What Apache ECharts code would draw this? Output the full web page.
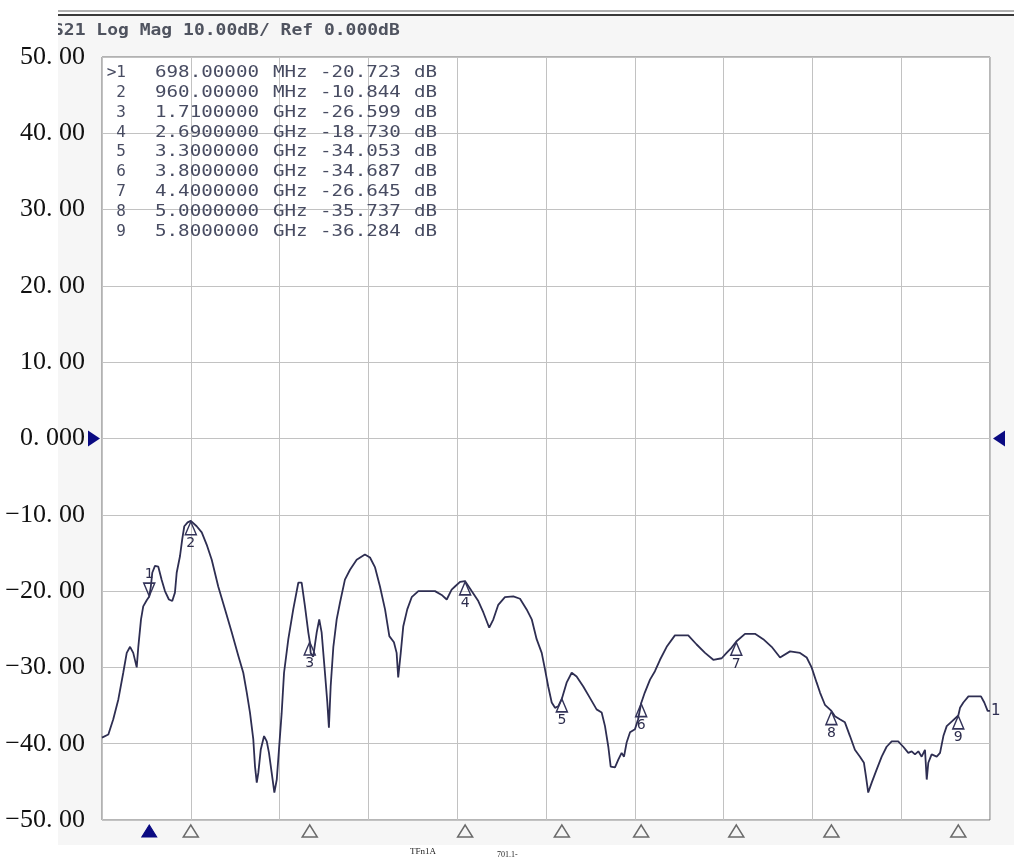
<!DOCTYPE html>
<html><head><meta charset="utf-8">
<script src="https://cdn.jsdelivr.net/npm/echarts@6/dist/echarts.min.js"></script>
<style>html,body{margin:0;padding:0;background:#fff}#c{width:1014px;height:863px}</style>
</head><body><div id="c"></div>
<script>
// ---- data ----
const traceFreqMHz = [400,440,471,503,534,556,577,597,619,629,646,660,682,698,708,717,734,755,776,797,822,843,860,871,892,906,919,940,960,997,1029,1060,1092,1133,1176,1218,1260,1291,1313,1333,1354,1365,1376,1386,1401,1422,1439,1453,1470,1487,1502,1516,1533,1548,1575,1606,1638,1659,1680,1701,1710,1716,1732,1754,1770,1785,1806,1821,1831,1842,1859,1880,1901,1932,1964,2006,2058,2090,2122,2153,2185,2212,2241,2258,2268,2284,2300,2325,2353,2395,2448,2500,2542,2574,2605,2626,2658,2690,2731,2773,2805,2842,2868,2899,2941,2994,3036,3078,3110,3141,3173,3194,3214,3236,3257,3277,3300,3330,3362,3393,3435,3477,3519,3551,3572,3593,3608,3635,3656,3677,3692,3709,3730,3761,3781,3800,3823,3856,3887,3919,3961,4013,4097,4150,4203,4255,4308,4339,4371,4400,4455,4518,4570,4623,4676,4739,4802,4844,4875,4907,4928,4959,5000,5022,5053,5085,5117,5148,5180,5205,5218,5232,5254,5285,5317,5348,5380,5421,5453,5485,5506,5527,5548,5569,5590,5601,5611,5632,5664,5685,5706,5727,5758,5800,5811,5832,5864,5943,5964,5985,6000];
const traceDb = [-39.2,-38.8,-36.8,-34.2,-30.7,-28.1,-27.3,-28.1,-30.0,-27.3,-23.7,-22.0,-21.2,-20.7,-19.4,-17.6,-16.7,-16.8,-18.5,-20.0,-21.1,-21.3,-20.2,-17.6,-15.4,-13.2,-11.5,-11.0,-10.8,-11.5,-12.3,-13.9,-15.9,-19.4,-22.4,-25.4,-28.5,-30.7,-33.3,-35.9,-39.4,-43.0,-45.1,-43.8,-40.8,-39.0,-39.7,-41.2,-43.8,-46.4,-44.7,-40.8,-36.0,-30.7,-26.3,-22.4,-18.9,-18.9,-22.0,-25.4,-26.6,-28.1,-28.6,-25.4,-23.7,-25.4,-30.7,-34.6,-37.9,-32.5,-27.3,-23.7,-21.5,-18.5,-17.2,-15.9,-15.2,-15.6,-16.9,-19.4,-22.4,-25.9,-26.7,-28.1,-31.3,-28.1,-24.6,-22.4,-20.8,-20.0,-20.0,-20.0,-20.5,-21.1,-19.8,-19.4,-18.8,-18.7,-20.0,-21.3,-22.8,-24.8,-23.7,-21.8,-20.8,-20.7,-21.0,-22.4,-23.7,-26.3,-28.1,-30.3,-32.5,-34.6,-35.3,-35.1,-34.1,-32.0,-30.7,-31.2,-32.5,-34.0,-35.5,-35.9,-37.7,-40.4,-43.0,-43.1,-42.1,-41.2,-41.7,-39.8,-38.5,-38.1,-36.8,-34.7,-33.3,-31.6,-30.5,-29.0,-27.3,-25.8,-25.8,-27.0,-28.1,-29.0,-28.8,-28.1,-27.4,-26.6,-25.6,-25.6,-26.3,-27.3,-28.7,-27.9,-28.1,-28.7,-30.0,-32.0,-33.3,-34.9,-35.7,-36.4,-36.8,-37.2,-39.0,-40.8,-41.7,-42.5,-44.3,-46.4,-45.1,-43.4,-41.7,-40.4,-39.7,-39.7,-40.4,-41.2,-41.0,-41.4,-41.0,-41.7,-40.8,-44.7,-42.5,-41.4,-41.7,-41.2,-39.0,-37.7,-37.1,-36.3,-35.3,-34.6,-33.8,-33.8,-34.6,-35.7,-35.7];
const markerIds = ['1','2','3','4','5','6','7','8','9'];
const markerFreqMHz = [698,960,1710,2690,3300,3800,4400,5000,5800];
const markerDb = [-20.723,-10.844,-26.599,-18.730,-34.053,-34.687,-26.645,-35.737,-36.284];
const markerFreqText = ['698.00000','960.00000','1.7100000','2.6900000','3.3000000','3.8000000','4.4000000','5.0000000','5.8000000'];
const markerUnitText = ['MHz','MHz','GHz','GHz','GHz','GHz','GHz','GHz','GHz'];
const markerValText = ['-20.723','-10.844','-26.599','-18.730','-34.053','-34.687','-26.645','-35.737','-36.284'];
const yTickLabels = ['\u221250. 00','\u221240. 00','\u221230. 00','\u221220. 00','\u221210. 00','0. 000','10. 00','20. 00','30. 00','40. 00','50. 00'];
const titleText = 'S21 Log Mag 10.00dB/ Ref 0.000dB';
const footTexts = ['TFn1A','701.1-'];

// ---- chart ----
const chart = echarts.init(document.getElementById('c'), null, {renderer:'canvas'});
const TRACE = '#2e2e52';
const NAVY = '#0a0a82';
const mono = 'DejaVu Sans Mono';

const graphics = [
  {type:'rect', shape:{x:58,y:16,width:956,height:829}, style:{fill:'#f6f6f6'}, z:-10},
  {type:'rect', shape:{x:58,y:10,width:956,height:2}, style:{fill:'#b0b0b0'}, z:-9},
  {type:'rect', shape:{x:58,y:14,width:956,height:2}, style:{fill:'#3a3a3a'}, z:-9},
  {type:'text', x:53, y:31, scaleX:1.2, style:{text:titleText, font:'bold 15px "'+mono+'"', fill:'#4f535f', verticalAlign:'middle'}},
  {type:'rect', shape:{x:0,y:18,width:58,height:25}, style:{fill:'#ffffff'}, z:10},
  {type:'text', x:410, y:852, style:{text:footTexts[0], font:'9px "Liberation Serif"', fill:'#222', verticalAlign:'middle'}},
  {type:'text', x:497, y:855, style:{text:footTexts[1], font:'8px "Liberation Serif"', fill:'#222', verticalAlign:'middle'}}
];
const rowY0 = 73, rowDy = 19.8;
markerIds.forEach((id, i) => {
  const y = rowY0 + i * rowDy;
  const f = '16px "' + mono + '"';
  const col = '#484c62';
  graphics.push({type:'text', x:126, y:y, style:{text:(i===0?'>':'')+id, font:f, fill:col, align:'right', verticalAlign:'middle'}, z:5});
  graphics.push({type:'text', x:155, y:y, scaleX:1.2, style:{text:markerFreqText[i], font:f, fill:col, verticalAlign:'middle'}, z:5});
  graphics.push({type:'text', x:273, y:y, scaleX:1.2, style:{text:markerUnitText[i], font:f, fill:col, verticalAlign:'middle'}, z:5});
  graphics.push({type:'text', x:320, y:y, scaleX:1.2, style:{text:markerValText[i], font:f, fill:col, verticalAlign:'middle'}, z:5});
  graphics.push({type:'text', x:414, y:y, scaleX:1.2, style:{text:'dB', font:f, fill:col, verticalAlign:'middle'}, z:5});
});

const upTri = 'path://M5,0 L10,12 L0,12 Z';
const downTri = 'path://M0,0 L10,0 L5,12 Z';

const option = {
  animation:false,
  backgroundColor:'#ffffff',
  grid:{left:102, right:24, top:57, bottom:43, show:true, backgroundColor:'#ffffff', borderColor:'#6e6e6e', borderWidth:1},
  xAxis:[
    {type:'value', min:400, max:6000, axisLine:{show:false}, axisTick:{show:false}, axisLabel:{show:false}, splitLine:{show:false}},
    {type:'value', min:0, max:10, interval:1, position:'bottom', axisLine:{show:false}, axisTick:{show:false}, axisLabel:{show:false}, splitLine:{show:true, lineStyle:{color:'#c2c2c2', width:1}}}
  ],
  yAxis:{type:'value', min:-50, max:50, interval:10, axisLine:{show:false}, axisTick:{show:false},
    splitLine:{show:true, lineStyle:{color:'#c2c2c2', width:1}},
    axisLabel:{margin:17, fontFamily:'Liberation Serif', fontSize:26, color:'#111',
      formatter:(v)=>yTickLabels[Math.round((v+50)/10)]}},
  graphic:graphics,
  series:[
    {type:'line', xAxisIndex:0, data:traceFreqMHz.map((f,i)=>[f,traceDb[i]]), symbol:'none', smooth:false,
      lineStyle:{color:TRACE, width:1.8}, z:3,
      endLabel:{show:true, formatter:'1', color:TRACE, fontFamily:'DejaVu Sans', fontSize:15, distance:1}},
    {type:'scatter', xAxisIndex:0, z:4, clip:false,
      data:markerFreqMHz.slice(1).map((f,i)=>({value:[f,markerDb[i+1]], name:markerIds[i+1]})),
      symbol:upTri, symbolSize:[11,13], symbolOffset:[0,7],
      itemStyle:{color:'rgba(255,255,255,0)', borderColor:'#34345a', borderWidth:1.5, opacity:1},
      label:{show:true, position:'bottom', distance:1, formatter:(p)=>p.name, color:'#2e2e4e', fontFamily:'DejaVu Sans', fontSize:14}},
    {type:'scatter', xAxisIndex:0, z:4, clip:false,
      data:[{value:[markerFreqMHz[0],markerDb[0]], name:markerIds[0]}],
      symbol:downTri, symbolSize:[11,13], symbolOffset:[0,-7],
      itemStyle:{color:'rgba(255,255,255,0)', borderColor:'#34345a', borderWidth:1.5, opacity:1},
      label:{show:true, position:'top', distance:1, formatter:(p)=>p.name, color:'#2e2e4e', fontFamily:'DejaVu Sans', fontSize:14}},
    {type:'scatter', xAxisIndex:0, z:4, clip:false, silent:true,
      data:markerFreqMHz.map((f,i)=>({value:[f,-50], itemStyle: i===0 ? {color:NAVY, borderColor:NAVY, borderWidth:1, opacity:1} : {color:'#f6f6f6', borderColor:'#6a6a6a', borderWidth:1.5, opacity:1}})),
      symbol:upTri, symbolSize:[15,12], symbolOffset:[0,11]},
    {type:'scatter', xAxisIndex:0, z:4, clip:false, silent:true,
      data:[[400,0]], symbol:'path://M0,0 L12,8 L0,16 Z', symbolSize:[12,16], symbolOffset:[-8,0], itemStyle:{color:NAVY, opacity:1}},
    {type:'scatter', xAxisIndex:0, z:4, clip:false, silent:true,
      data:[[6000,0]], symbol:'path://M12,0 L0,8 L12,16 Z', symbolSize:[12,16], symbolOffset:[9,0], itemStyle:{color:NAVY, opacity:1}}
  ]
};
chart.setOption(option);
</script></body></html>
